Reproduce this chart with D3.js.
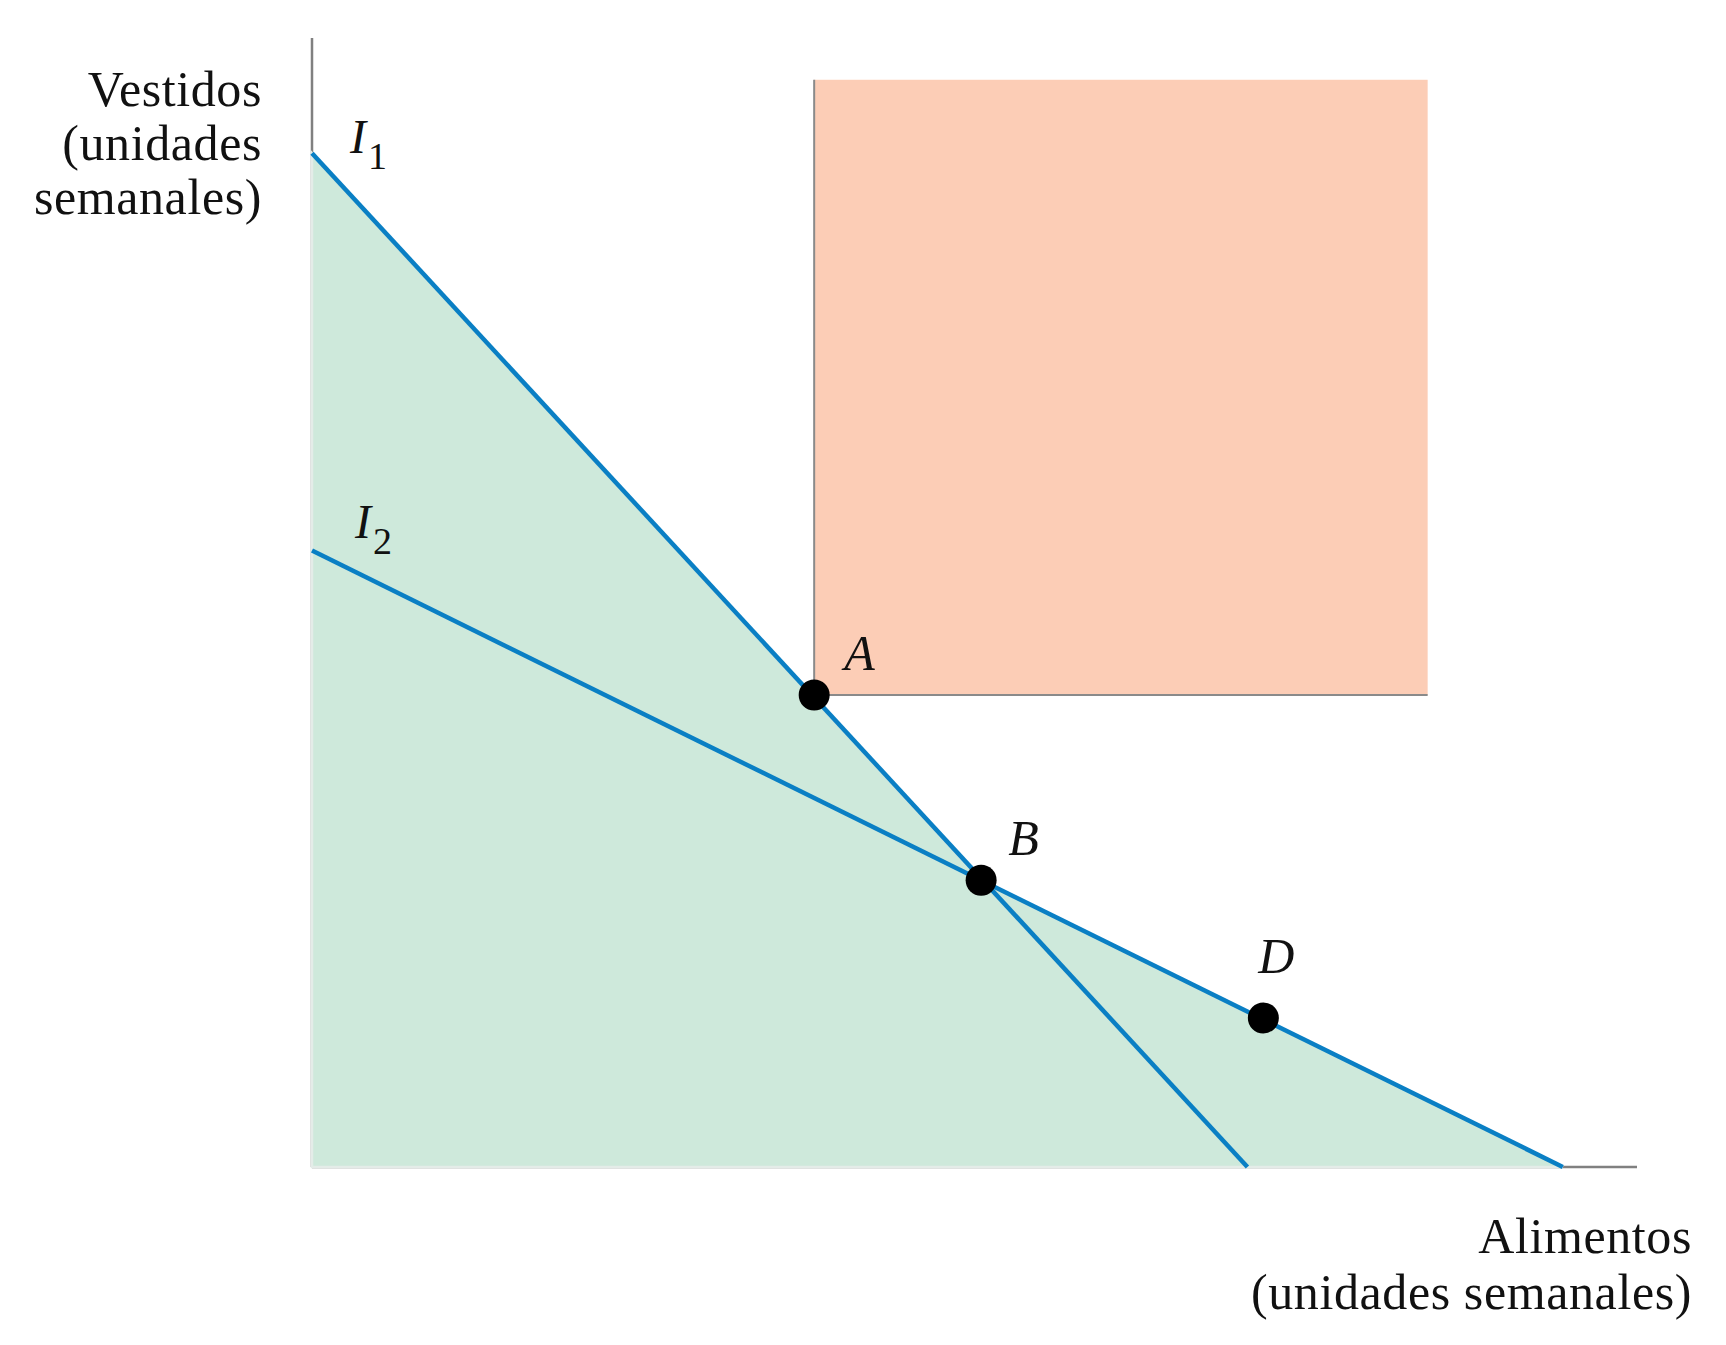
<!DOCTYPE html>
<html><head><meta charset="utf-8">
<script src="https://cdn.jsdelivr.net/npm/d3@7"></script>
<style>body{margin:0;background:#fff}svg{display:block}text{font-family:"Liberation Serif","DejaVu Serif",serif;fill:#111}</style>
</head><body><svg id="c" width="1726" height="1345"></svg>
<script>
// Data (arbitrary units: Alimentos on x, Vestidos on y)
const budgetLineNames = ["I1", "I2"];
const budgetLineI1 = [[0, 89.8], [70.6, 0]];
const budgetLineI2 = [[0, 54.6], [94.4, 0]];
const pointNames = ["A", "B", "D"];
const pointX = [37.9, 50.5, 71.8];
const pointY = [41.8, 25.4, 13.2];
const boxX = [37.9, 84.2];   // preferred region corners
const boxY = [41.8, 96.3];
const xLabel = ["Alimentos", "(unidades semanales)"];
const yLabel = ["Vestidos", "(unidades", "semanales)"];

const svg = d3.select("#c");
const x = d3.scaleLinear().domain([0, 100]).range([312, 1637]);
const y = d3.scaleLinear().domain([0, 100]).range([1167, 38]);

// axes
svg.append("line").attr("x1", x(0)).attr("x2", x(0)).attr("y1", y(0)).attr("y2", y(100))
  .attr("stroke", "#808080").attr("stroke-width", 2.5);
svg.append("line").attr("x1", x(0)).attr("x2", x(100)).attr("y1", y(0)).attr("y2", y(0))
  .attr("stroke", "#808080").attr("stroke-width", 2.5);

// shaded feasible region
const B = [pointX[1], pointY[1]];
const poly = [[0, 0], budgetLineI1[0], B, budgetLineI2[1]];
svg.append("path").attr("d", d3.line().x(d => x(d[0])).y(d => y(d[1]))(poly) + "Z")
  .attr("fill", "#cee9db").attr("stroke", "#e4ece8").attr("stroke-width", 2.5);

// orange box
svg.append("rect").attr("x", x(boxX[0])).attr("y", y(boxY[1]))
  .attr("width", x(boxX[1]) - x(boxX[0])).attr("height", y(boxY[0]) - y(boxY[1]))
  .attr("fill", "#fccdb6");
svg.append("path")
  .attr("d", d3.line()([[x(boxX[0]), y(boxY[1])], [x(boxX[0]), y(boxY[0])], [x(boxX[1]), y(boxY[0])]]))
  .attr("fill", "none").attr("stroke", "#8a8a8a").attr("stroke-width", 2);

// budget lines
const line = d3.line().x(d => x(d[0])).y(d => y(d[1]));
[budgetLineI1, budgetLineI2].forEach(l => {
  svg.append("path").attr("d", line(l)).attr("fill", "none")
    .attr("stroke", "#0a7fc4").attr("stroke-width", 4.5);
});

// points
pointNames.forEach((n, i) => {
  svg.append("circle").attr("cx", x(pointX[i])).attr("cy", y(pointY[i])).attr("r", 15.5).attr("fill", "#000");
});
const labelOff = [[30, -25], [27, -25], [-5, -45]];
pointNames.forEach((n, i) => {
  svg.append("text").attr("x", x(pointX[i]) + labelOff[i][0]).attr("y", y(pointY[i]) + labelOff[i][1])
    .attr("font-size", 50).attr("font-style", "italic").text(n);
});

// line labels
const lineLabelPos = [[budgetLineI1, 38, 0], [budgetLineI2, 43, -13]];
lineLabelPos.forEach((p, i) => {
  const t = svg.append("text").attr("x", x(p[0][0][0]) + p[1]).attr("y", y(p[0][0][1]) + p[2])
    .attr("font-size", 48).attr("font-style", "italic");
  t.append("tspan").text("I");
  t.append("tspan").attr("font-style", "normal").attr("font-size", 38).attr("dy", 16).attr("dx", 2)
    .text(budgetLineNames[i].slice(1));
});

// axis titles
yLabel.forEach((s, i) => {
  svg.append("text").attr("x", 262).attr("y", 106 + i * 54).attr("text-anchor", "end")
    .attr("font-size", 50).attr("letter-spacing", 0.6).text(s);
});
xLabel.forEach((s, i) => {
  svg.append("text").attr("x", 1692).attr("y", 1253 + i * 56).attr("text-anchor", "end")
    .attr("font-size", 50).attr("letter-spacing", 0.6).text(s);
});
</script></body></html>
